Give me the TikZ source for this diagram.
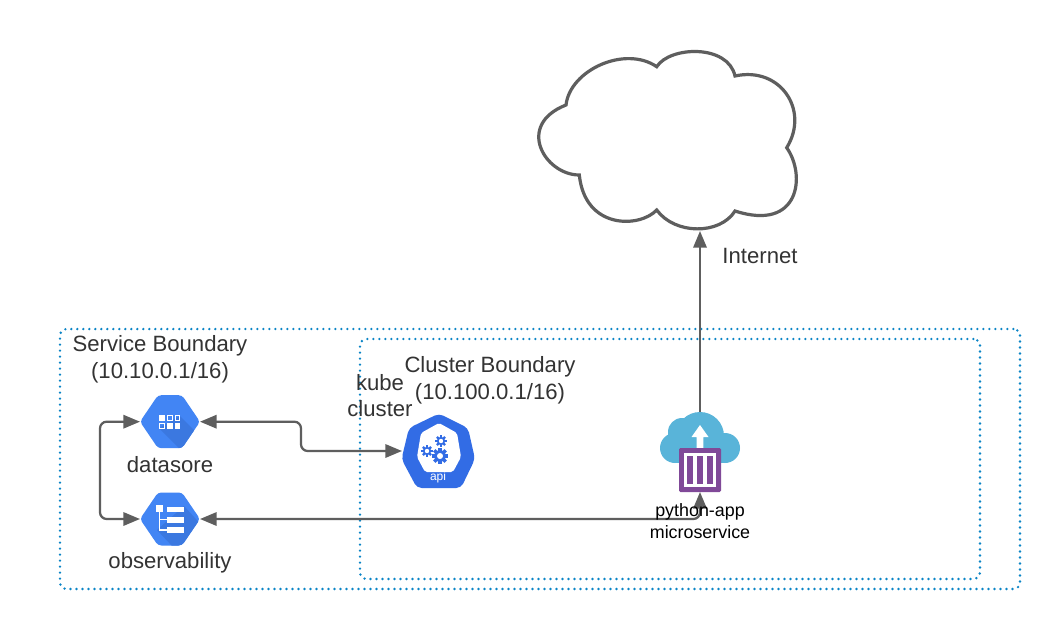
\documentclass[tikz,border=0pt]{standalone}
\usepackage{fontspec}
\setmainfont{Liberation Sans}
\usetikzlibrary{arrows.meta}
\definecolor{linegray}{HTML}{5E5E5E}
\definecolor{txtgray}{HTML}{333333}
\definecolor{bndblue}{HTML}{0A84C6}
\definecolor{hexblue}{HTML}{4285F4}
\definecolor{hexdark}{HTML}{3B78E0}
\definecolor{kblue}{HTML}{326CE5}
\definecolor{skyblue}{HTML}{59B4D9}
\definecolor{purp}{HTML}{804998}
\tikzset{
  boundary/.style={draw=bndblue,line width=2pt,line cap=round,dash pattern=on 0pt off 4.5pt,rounded corners=5pt},
  conn/.style={draw=linegray,line width=1.7pt,rounded corners=5pt},
  both/.style={conn,{Triangle[length=12.5pt,width=10pt]}-{Triangle[length=12.5pt,width=10pt]}},
  single/.style={conn,-{Triangle[length=12.5pt,width=10pt]}},
  lbl/.style={text=txtgray,font=\fontsize{16.6}{20}\selectfont,inner sep=0pt},
  lblsm/.style={text=black,font=\fontsize{13.4}{16}\selectfont,inner sep=0pt},
  gear/.pic={
    \fill[kblue] (0,0) circle (1);
    \foreach \a in {0,45,...,315}{\fill[kblue,rotate=\a] (-0.28,0.7) rectangle (0.28,1.38);}
    \fill[white] (0,0) circle (0.52);
  }
}
\newcommand{\hexpath}[2]{(#1-30,#2) -- (#1-12,#2-26.5) -- (#1+12,#2-26.5) -- (#1+30,#2) -- (#1+12,#2+26.5) -- (#1-12,#2+26.5) -- cycle}
\begin{document}
\begin{tikzpicture}[x=0.75pt,y=-0.75pt]
\useasboundingbox (0,0) rectangle (1062,631);
\fill[white] (0,0) rectangle (1062,631);
% boundaries
\node[boundary,inner sep=0pt,outer sep=0pt,minimum width=720pt,minimum height=195pt] (outerb) at (540,459) {};
\node[boundary,inner sep=0pt,outer sep=0pt,minimum width=465pt,minimum height=180pt] (innerb) at (670,459) {};
% internet cloud
\node[inner sep=0pt,outer sep=0pt,minimum width=194pt,minimum height=135pt] (inet) at (669,141) {};
\draw[linegray,line width=2.4pt,fill=white,line join=miter]
  (566,105) .. controls (570,70) and (625,45) .. (656.7,66.7)
  .. controls (670,46) and (728,44) .. (735,76)
  .. controls (780,66) and (810,110) .. (786.7,147.7)
  .. controls (806,175) and (800,232) .. (735,211)
  .. controls (720,235) and (675,235) .. (656.7,210)
  .. controls (640,228) and (585,230) .. (579.3,175)
  .. controls (545,175) and (515,125) .. (566,105) -- cycle;
% datastore icon
\node[inner sep=0pt,outer sep=0pt,minimum width=45pt,minimum height=39.75pt] (ds) at (170,421.7) {};
\begin{scope}
  \path[clip,rounded corners=2.5pt] \hexpath{170}{421.7};
  \fill[hexblue] (130,390) rectangle (210,455);
  \fill[hexdark] (159,428) -- (180,416) -- (215,451) -- (194,463) -- cycle;
\end{scope}
\foreach \cx/\cy/\st in {162/418.2/f,169.8/418.2/o,177.5/418.2/o,162/425.8/o,169.8/425.8/f,177.5/425.8/f}{
  \if f\st
    \fill[white] (\cx-2.8,\cy-2.8) rectangle (\cx+2.8,\cy+2.8);
  \else
    \draw[white,line width=0.8pt] (\cx-2.3,\cy-2.3) rectangle (\cx+2.3,\cy+2.3);
  \fi
}
% observability icon
\node[inner sep=0pt,outer sep=0pt,minimum width=45pt,minimum height=39.75pt] (obs) at (170,519) {};
\begin{scope}
  \path[clip,rounded corners=2.5pt] \hexpath{170}{519};
  \fill[hexblue] (130,485) rectangle (210,555);
  \fill[hexdark] (157,530) -- (184,506) -- (215,540) -- (190,565) -- cycle;
\end{scope}
\fill[white] (155.7,505.3) rectangle (162.7,512.3);
\fill[white] (167.3,506.7) rectangle (184.3,512);
\fill[white] (167.3,516.7) rectangle (184.3,522.7);
\fill[white] (167.3,527.3) rectangle (184.3,532.7);
\draw[white,line width=0.8pt] (159.3,512) -- (159.3,530) -- (167.3,530) (159.3,519.7) -- (167.3,519.7);
% kubernetes icon
\node[inner sep=0pt,outer sep=0pt,minimum width=54pt,minimum height=55pt] (kube) at (438,451) {};
\fill[kblue,rounded corners=3.5pt] (439,413.5) -- (468,428) -- (475,459) -- (461,488) -- (417,488) -- (401.5,459) -- (409,428) -- cycle;
\fill[white,rounded corners=1.5pt] (439,423) -- (457,433) -- (461,457) -- (453,472) -- (425,472) -- (417,457) -- (421,433) -- cycle;
\pic[scale=5.8] at (440,456) {gear};
\pic[scale=4.2] at (427,451) {gear};
\pic[scale=4.2] at (441,441) {gear};
\node[text=white,inner sep=0pt,font=\fontsize{9}{11}\selectfont] (apilbl) at (438,477) {api};
% microservice icon
\node[inner sep=0pt,outer sep=0pt,minimum width=60pt,minimum height=60pt] (micro) at (700,452) {};
\fill[skyblue] (700,436) circle[radius=18pt] (682,432) circle[radius=10.5pt] (675,448) circle[radius=11.25pt]
  (725,448) circle[radius=11.25pt];
\fill[skyblue] (675,440) rectangle (725,463);
\fill[white] (700,425) -- (708.5,437) -- (703.3,437) -- (703.3,449) -- (696.7,449) -- (696.7,437) -- (691.5,437) -- cycle;
\fill[purp,rounded corners=1pt] (679,448) rectangle (721,492);
\fill[white] (684,452.5) rectangle (716,487);
\fill[purp] (687.3,455.7) rectangle (693.3,484);
\fill[purp] (697,455.7) rectangle (703.3,484);
\fill[purp] (706.7,455.7) rectangle (712.7,484);
% connectors
\draw[both] (ds.east) -| (301,436) |- (kube.west);
\draw[both] (ds.west) -- (100,421.7) -- (100,519) -- (obs.west);
\draw[both] (obs.east) -- (700,519) -- (micro.south);
\draw[single] (micro.north) -- (micro.north |- inet.south);
% labels
\node[lbl] (t1) at (160,346) {Service Boundary};
\node[lbl] (t2) at (160,372.5) {(10.10.0.1/16)};
\node[lbl] (t3) at (490,367) {Cluster Boundary};
\node[lbl] (t4) at (490,393.5) {(10.100.0.1/16)};
\node[lbl] (t5) at (380,383) {kube};
\node[lbl] (t6) at (380,409) {cluster};
\node[lbl] (t7) at (170,465) {datasore};
\node[lbl] (t8) at (170,563) {observability};
\node[lbl] (t9) at (760,256) {Internet};
\node[lblsm] (t10) at (700,512) {python-app};
\node[lblsm] (t11) at (700,532) {microservice};
\end{tikzpicture}
\end{document}
